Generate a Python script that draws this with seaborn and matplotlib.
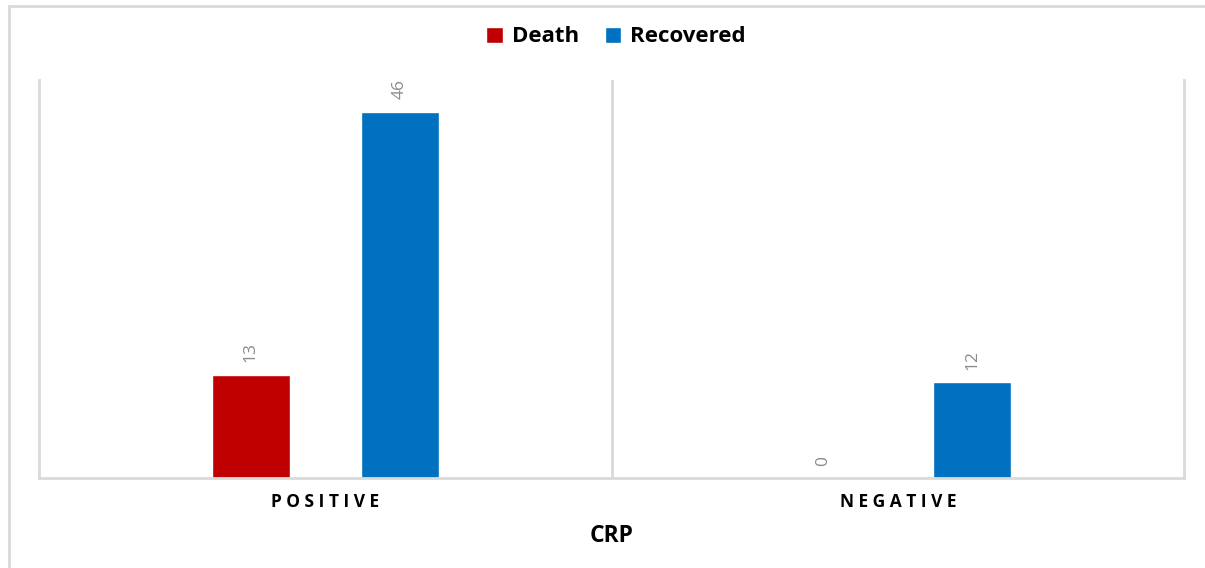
import matplotlib
matplotlib.use("Agg")
import matplotlib.pyplot as plt
from matplotlib.patches import Rectangle
from matplotlib.ticker import FixedLocator
import seaborn as sns
import pandas as pd

# CRP status groups and outcome counts
categories = ["POSITIVE", "NEGATIVE"]
outcomes = ["Death", "Recovered"]
death = [13, 0]
recovered = [46, 12]

colors = {"Death": "#C00000", "Recovered": "#0070C0"}
grid_col = "#D9D9D9"

df = pd.DataFrame({
    "CRP": categories * 2,
    "Outcome": ["Death"] * len(categories) + ["Recovered"] * len(categories),
    "Count": death + recovered,
})

sns.set_theme(style="white")
plt.rcParams["font.family"] = ["Open Sans", "DejaVu Sans"]
plt.rcParams["text.color"] = "#000000"

fig = plt.figure(figsize=(12.05, 5.68), dpi=100)
fig.patch.set_facecolor("white")

# light outer frame around the chart area
fig.patches.append(Rectangle((9 / 1205, -0.05), 1.2, 1 - 6 / 568 + 0.05,
                             transform=fig.transFigure, fill=False,
                             edgecolor=grid_col, linewidth=2.0))

ax = fig.add_axes([39 / 1205, 1 - 478 / 568, (1184 - 39) / 1205, (478 - 80) / 568])

sns.barplot(data=df, x="CRP", y="Count", hue="Outcome", order=categories,
            hue_order=outcomes, palette=colors, width=0.52, gap=0.475,
            saturation=1, ax=ax, legend=True)

ax.set_xlim(-0.5, 1.5)
ax.set_ylim(0, 50)
ax.set_yticks([])
ax.set_ylabel("")

# vertical separators between categories
ax.xaxis.set_minor_locator(FixedLocator([0.5]))
ax.grid(True, which="minor", axis="x", color=grid_col, linewidth=2.0)
ax.tick_params(axis="x", which="both", length=0, pad=11)

for side in ["left", "right", "bottom"]:
    ax.spines[side].set_color(grid_col)
    ax.spines[side].set_linewidth(2.0)
ax.spines["top"].set_visible(False)

spaced = [" ".join(list(c)) for c in categories]
ax.set_xticks(range(len(categories)))
ax.set_xticklabels(spaced, fontsize=12.5, fontweight="bold", color="#000000")
ax.set_xlabel("CRP", fontsize=16.5, fontweight="bold", color="#000000", labelpad=9)

for container in ax.containers:
    ax.bar_label(container, fmt="%d", rotation=90, padding=9,
                 fontsize=12.5, color="#8C8C8C")

handles, labels = ax.get_legend_handles_labels()
ax.get_legend().remove()
leg = fig.legend(handles, labels, loc="center", bbox_to_anchor=(616 / 1205, 1 - 37 / 568),
                 ncol=2, frameon=False, handlelength=0.75, handleheight=0.75,
                 handletextpad=0.4, columnspacing=1.15,
                 prop={"size": 16, "weight": "bold"})
for t in leg.get_texts():
    t.set_color("#000000")

fig.savefig("out.png", dpi=100, facecolor="white")
